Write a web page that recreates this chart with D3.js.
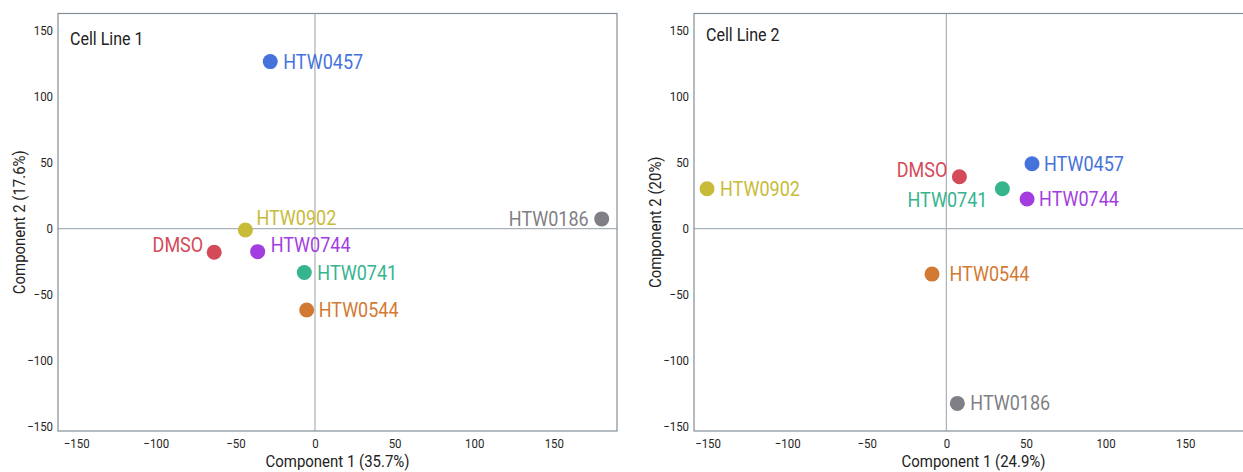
<!DOCTYPE html>
<html>
<head>
<meta charset="utf-8">
<script src="https://cdn.jsdelivr.net/npm/d3@7"></script>
<style>
  html, body { margin: 0; padding: 0; background: #fff; overflow: hidden; }
  svg { display: block; font-family: Roboto, "Noto Sans", sans-serif; }
</style>
</head>
<body>
<svg id="chart" width="1243" height="472"></svg>
<script>
// Compounds shown in both PCA panels
const compounds = ["HTW0457", "HTW0902", "DMSO", "HTW0744", "HTW0741", "HTW0544", "HTW0186"];
const compoundColors = ["#4673db", "#c8bb38", "#d44a58", "#a33ddf", "#35b48e", "#d27a33", "#7f7f85"];

// Cell line 1 scores
const line1PC1 = [-28.1, -43.7, -63.3, -36.0, -6.7, -5.2, 180.1];
const line1PC2 = [126.3, -1.1, -17.9, -17.5, -33.3, -61.6, 7.3];

// Cell line 2 scores
const line2PC1 = [53.8, -150.3, 8.2, 50.7, 35.2, -9.0, 6.9];
const line2PC2 = [49.0, 30.1, 39.2, 22.3, 30.1, -34.5, -132.3];

const tickValues = [-150, -100, -50, 0, 50, 100, 150];

// Label placement per point: [anchor, dx, dy]
const placement1 = {
  HTW0457: ["start", 13, 0], HTW0902: ["start", 11, -12], DMSO: ["end", -11, -7],
  HTW0744: ["start", 13, -7], HTW0741: ["start", 13, 0], HTW0544: ["start", 12, 0],
  HTW0186: ["end", -13, 0]
};
const placement2 = {
  HTW0457: ["start", 12, 0], HTW0902: ["start", 13, 0], DMSO: ["end", -12, -7],
  HTW0744: ["start", 12, 0], HTW0741: ["end", -15, 11], HTW0544: ["start", 17.5, 0],
  HTW0186: ["start", 13, 0]
};

const panels = [
  { title: "Cell Line 1", xTitle: "Component 1 (35.7%)", yTitle: "Component 2 (17.6%)",
    pc1: line1PC1, pc2: line1PC2, place: placement1,
    left: 58, right: 617, xDomain: [-161.4, 189.7], titleY: 45 },
  { title: "Cell Line 2", xTitle: "Component 1 (24.9%)", yTitle: "Component 2 (20%)",
    pc1: line2PC1, pc2: line2PC2, place: placement2,
    left: 694, right: 1253, xDomain: [-158.5, 192.6], titleY: 40.5 }
];

const plotTop = 13.5, plotBottom = 431;
const yDomain = [-153.2, 162.7];
const svg = d3.select("#chart");

// Narrow the glyphs to a condensed look
function condense(sel, k) {
  sel.each(function () {
    const w = this.getComputedTextLength();
    d3.select(this).attr("textLength", w * k).attr("lengthAdjust", "spacingAndGlyphs");
  });
}

panels.forEach(p => {
  const x = d3.scaleLinear().domain(p.xDomain).range([p.left, p.right]);
  const y = d3.scaleLinear().domain(yDomain).range([plotBottom, plotTop]);
  const g = svg.append("g");

  // zero lines
  g.append("line").attr("x1", x(0)).attr("x2", x(0)).attr("y1", plotTop).attr("y2", plotBottom)
    .attr("stroke", "#a9b1b9").attr("stroke-width", 1.2);
  g.append("line").attr("x1", p.left).attr("x2", p.right).attr("y1", y(0)).attr("y2", y(0))
    .attr("stroke", "#a9b1b9").attr("stroke-width", 1.2);

  // frame
  g.append("rect").attr("x", p.left).attr("y", plotTop)
    .attr("width", p.right - p.left).attr("height", plotBottom - plotTop)
    .attr("fill", "none").attr("stroke", "#838e98").attr("stroke-width", 1.2);

  // axes (labels only)
  const xAxis = g.append("g").attr("transform", `translate(0,${plotBottom})`)
    .call(d3.axisBottom(x).tickValues(tickValues).tickSize(0).tickPadding(8));
  const yAxis = g.append("g").attr("transform", `translate(${p.left},0)`)
    .call(d3.axisLeft(y).tickValues(tickValues).tickSize(0).tickPadding(5));
  [xAxis, yAxis].forEach(a => {
    a.select(".domain").remove();
    a.selectAll("text").attr("font-size", 13).attr("fill", "#262626")
      .attr("font-family", "Roboto, sans-serif");
    condense(a.selectAll("text"), 0.88);
  });

  // panel title
  g.append("text").attr("x", p.left + 12).attr("y", p.titleY).text(p.title)
    .attr("font-size", 18).attr("fill", "#222").call(condense, 0.89);

  // axis titles
  g.append("text").attr("x", (p.left + p.right) / 2)
    .attr("y", 467).attr("text-anchor", "middle").text(p.xTitle)
    .attr("font-size", 17).attr("fill", "#222").call(condense, 0.88);
  g.append("text").attr("transform", `translate(${p.left - 33.5},${(plotTop + plotBottom) / 2}) rotate(-90)`)
    .attr("text-anchor", "middle").text(p.yTitle)
    .attr("font-size", 17).attr("fill", "#222").call(condense, 0.88);

  // points
  const pts = compounds.map((name, i) => ({ name, color: compoundColors[i], a: p.pc1[i], b: p.pc2[i] }));
  g.selectAll("circle.pt").data(pts).join("circle").attr("class", "pt")
    .attr("cx", d => x(d.a)).attr("cy", d => y(d.b)).attr("r", 7.5)
    .attr("fill", d => d.color);

  // point labels
  g.selectAll("text.lbl").data(pts).join("text").attr("class", "lbl")
    .attr("x", d => x(d.a) + p.place[d.name][1])
    .attr("y", d => y(d.b) + p.place[d.name][2] + 7)
    .attr("text-anchor", d => p.place[d.name][0])
    .attr("font-size", 20).attr("fill", d => d.color)
    .text(d => d.name)
    .call(condense, 0.9);
});
</script>
</body>
</html>
